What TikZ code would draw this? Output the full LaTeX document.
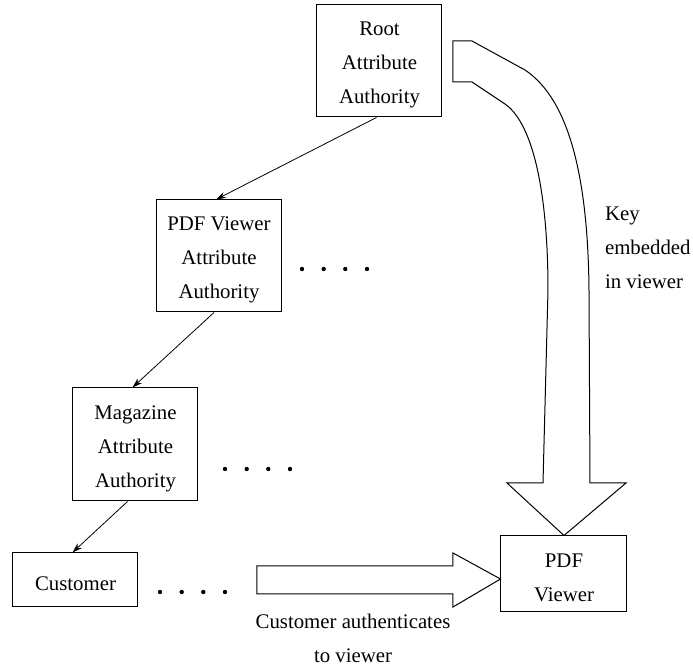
\documentclass[tikz,border=0pt]{standalone}
\usepackage{fontspec}
\setmainfont{Liberation Serif}
\usetikzlibrary{arrows.meta}
\newcommand{\liftline}{\rule{0pt}{11pt}}
\tikzset{
  authbox/.style={draw, line width=0.5pt, align=center, minimum width=62.5pt, inner sep=2pt},
  certlink/.style={-{Stealth[length=5pt,width=3.2pt]}, line width=0.4pt},
  bigarrow/.style={draw, line width=0.5pt, line join=miter},
}

\begin{document}
\begin{tikzpicture}[x=0.5pt, y=-0.5pt, font=\fontsize{10.4}{17}\selectfont]
\useasboundingbox (0,0) rectangle (693,668);

\node[authbox, minimum height=56pt] (root) at (379.5,61) {\liftline Root\\Attribute\\Authority};
\node[authbox, minimum height=56pt] (viewerAA) at (219,256) {\liftline PDF Viewer\\Attribute\\Authority};
\node[authbox, minimum height=56.5pt] (magAA) at (135.5,444.5) {\liftline Magazine\\Attribute\\Authority};
\node[authbox, minimum height=27pt] (customer) at (75.5,580) {\liftline Customer};
\node[authbox, minimum width=63pt, minimum height=38pt] (viewer) at (564,574) {\liftline PDF\\Viewer};

\draw[certlink] ([xshift=-1.5pt]root.south) -- ([xshift=-1.5pt]viewerAA.north);
\draw[certlink] ([xshift=-2.5pt]viewerAA.south) -- ([xshift=-1.5pt]magAA.north);
\draw[certlink] ([xshift=-4pt]magAA.south) -- ([xshift=-1.5pt]customer.north);

\foreach \x in {302,323.7,345.3,367} \fill (\x,269) circle (1.1pt);
\foreach \x in {225,246.7,268.3,290} \fill (\x,469) circle (1.1pt);
\foreach \x in {160,181.7,203.3,225} \fill (\x,592) circle (1.1pt);

\path[bigarrow] (472,82) -- (453,82) -- (453,41) -- (472,41) -- (525,70)
  .. controls (570,100) and (588,180) .. (589,290) -- (590,483) -- (626,483)
  -- (viewer.north) -- (507,483) -- (543,483) -- (548,290)
  .. controls (548,200) and (535,125) .. (505,104) -- cycle;
\node[align=left, anchor=west] (keylabel) at (598,248) {Key\\embedded\\in viewer};

\path[bigarrow] (257,566) -- (453,566) -- (453,553) -- (viewer.west |- 0,579)
  -- (453,607) -- (453,594) -- (257,594) -- cycle;
\node[align=center] (authlabel) at (353,638) {Customer authenticates\\to viewer};
\end{tikzpicture}
\end{document}
